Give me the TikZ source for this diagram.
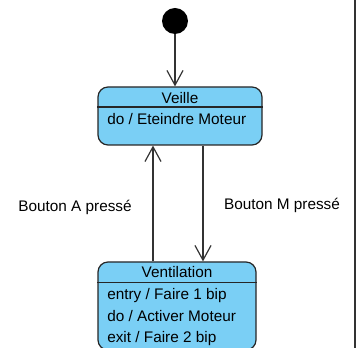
\documentclass[tikz,border=0pt]{standalone}
\usepackage{fontspec}
\setmainfont{Liberation Sans}
\usetikzlibrary{arrows.meta}
\definecolor{etatbleu}{RGB}{122,207,245}
\tikzset{
    etat/.style={draw=black!85, fill=etatbleu, rounded corners=7.5pt, line width=0.9pt, inner sep=0pt},
    fleche/.style={draw=black!80, line width=0.9pt, -{Straight Barb[length=11pt,width=12pt]}},
    texte/.style={font=\fontsize{11.5}{13}\selectfont, inner sep=0pt}
}
\begin{document}
\begin{tikzpicture}[x=0.75pt, y=-0.75pt]
    \useasboundingbox (0,0) rectangle (358,348);
    \clip (0,0) rectangle (358,348);

    % Nodes
    \node[circle, fill=black, minimum size=19.5pt, inner sep=0pt] (init) at (175,21) {};
    \node[etat, minimum width=123pt, minimum height=43.5pt] (veille) at (180,116) {};
    \node[etat, minimum width=118.5pt, minimum height=66pt] (vent) at (177,306) {};

    % Compartments
    \draw[line width=0.9pt, black!85] ([yshift=-15.5pt]veille.north west) -- ([yshift=-15.5pt]veille.north east);
    \draw[line width=0.9pt, black!85] ([yshift=-16pt]vent.north west) -- ([yshift=-16pt]vent.north east);
    \node[texte, anchor=base] (veilletitre) at (180,103.3) {Veille};
    \node[texte, anchor=base west] (veilledo) at (107,125) {do / Eteindre Moteur};
    \node[texte, anchor=base] (venttitre) at (177,278) {Ventilation};
    \node[texte, anchor=base west] (vententry) at (107,299.5) {entry / Faire 1 bip};
    \node[texte, anchor=base west] (ventdo) at (107,321.5) {do / Activer Moteur};
    \node[texte, anchor=base west] (ventexit) at (107,343) {exit / Faire 2 bip};

    % Labels
    \node[texte, anchor=base] (boutona) at (75,211.5) {Bouton A pressé};
    \node[texte, anchor=base] (boutonm) at (282,210) {Bouton M pressé};

    % Edges
    \draw[fleche] (init.south) -- (init.south |- veille.north);
    \draw[fleche] ([xshift=-18pt]vent.north) -- ([xshift=-18pt]vent.north |- veille.south);
    \draw[fleche] ([xshift=17.25pt]veille.south) -- ([xshift=17.25pt]veille.south |- vent.north);

    % Border
    \draw[black!80, line width=0.8pt] (355,0) -- (355,348);
\end{tikzpicture}
\end{document}
